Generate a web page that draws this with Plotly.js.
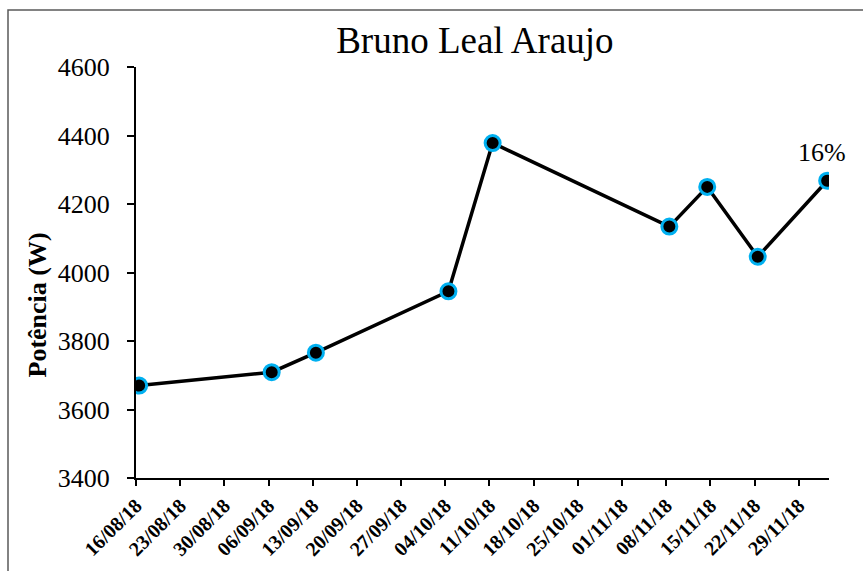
<!DOCTYPE html>
<html>
<head>
<meta charset="utf-8">
<script src="https://cdn.plot.ly/plotly-3.0.1.min.js"></script>
<style>html,body{margin:0;padding:0;background:#fff;overflow:hidden}#chart{width:863px;height:571px}</style>
</head>
<body>
<div id="chart"></div>
<script>
// Data
const dates = ["2018-08-16 12:00", "2018-09-06 12:00", "2018-09-13 12:00", "2018-10-04 12:00",
               "2018-10-11 12:00", "2018-11-08 12:00", "2018-11-14 12:00", "2018-11-22 12:00",
               "2018-12-03 12:00"];
const power = [3670, 3709, 3766, 3945, 4378, 4134, 4250, 4046, 4268];

const tickDates = ["2018-08-16", "2018-08-23", "2018-08-30", "2018-09-06", "2018-09-13",
                   "2018-09-20", "2018-09-27", "2018-10-04", "2018-10-11", "2018-10-18",
                   "2018-10-25", "2018-11-01", "2018-11-08", "2018-11-15", "2018-11-22",
                   "2018-11-29"];
const tickLabels = ["16/08/18", "23/08/18", "30/08/18", "06/09/18", "13/09/18",
                    "20/09/18", "27/09/18", "04/10/18", "11/10/18", "18/10/18",
                    "25/10/18", "01/11/18", "08/11/18", "15/11/18", "22/11/18",
                    "29/11/18"];
const yTicks = [3400, 3600, 3800, 4000, 4200, 4400, 4600];
const chartTitle = "Bruno Leal Araujo";
const yTitle = "Potência (W)";
const endLabel = "16%";

const serif = "'Liberation Serif', 'Times New Roman', serif";

const trace = {
  x: dates,
  y: power,
  type: "scatter",
  mode: "lines+markers",
  line: {color: "#000000", width: 3.5},
  marker: {color: "#000000", size: 15, line: {color: "#00B0F0", width: 3}},
  hoverinfo: "x+y"
};

const layout = {
  width: 863,
  height: 571,
  margin: {l: 136, r: 34, t: 67, b: 93, pad: 0},
  paper_bgcolor: "#ffffff",
  plot_bgcolor: "#ffffff",
  showlegend: false,
  title: {
    text: chartTitle,
    font: {family: serif, size: 37, color: "#000000"},
    xref: "paper", x: 0.489, xanchor: "center",
    yref: "container", y: 1 - 40 / 571, yanchor: "middle"
  },
  xaxis: {
    type: "date",
    range: ["2018-08-16", "2018-12-03 19:00"],
    tickmode: "array",
    tickvals: tickDates,
    ticktext: tickLabels,
    tickangle: -45,
    tickfont: {family: serif, size: 20, color: "#000000", weight: "bold"},
    ticks: "outside", ticklen: 6, tickwidth: 2, tickcolor: "#000000",
    showline: true, linecolor: "#000000", linewidth: 2,
    showgrid: false, zeroline: false,
    automargin: false
  },
  yaxis: {
    range: [3400, 4600],
    tickmode: "array",
    tickvals: yTicks,
    ticktext: yTicks.map(String),
    tickfont: {family: serif, size: 26, color: "#000000"},
    ticks: "outside", ticklen: 7, tickwidth: 2, tickcolor: "#000000",
    ticklabelstandoff: 12,
    showline: true, linecolor: "#000000", linewidth: 2,
    showgrid: false, zeroline: false,
    automargin: false
  },
  annotations: [{
    x: dates[dates.length - 1],
    y: power[power.length - 1],
    xref: "x", yref: "y",
    text: endLabel,
    showarrow: false,
    font: {family: serif, size: 26, color: "#000000"},
    xshift: -5, yshift: 28
  }, {
    xref: "paper", yref: "paper",
    x: (36.5 - 136) / 693, y: (478 - 305) / 411,
    xanchor: "center", yanchor: "middle",
    text: "<b>" + yTitle + "</b>",
    textangle: -90,
    showarrow: false,
    font: {family: serif, size: 26, color: "#000000"}
  }],
  shapes: [{
    type: "rect", xref: "paper", yref: "paper",
    x0: (8 - 136) / 693, x1: 1.2,
    y0: -0.4, y1: 1 + (67 - 10) / 411,
    line: {color: "#595959", width: 1.5},
    fillcolor: "rgba(0,0,0,0)",
    layer: "below"
  }]
};

Plotly.newPlot("chart", [trace], layout, {displayModeBar: false, staticPlot: true});
</script>
</body>
</html>
